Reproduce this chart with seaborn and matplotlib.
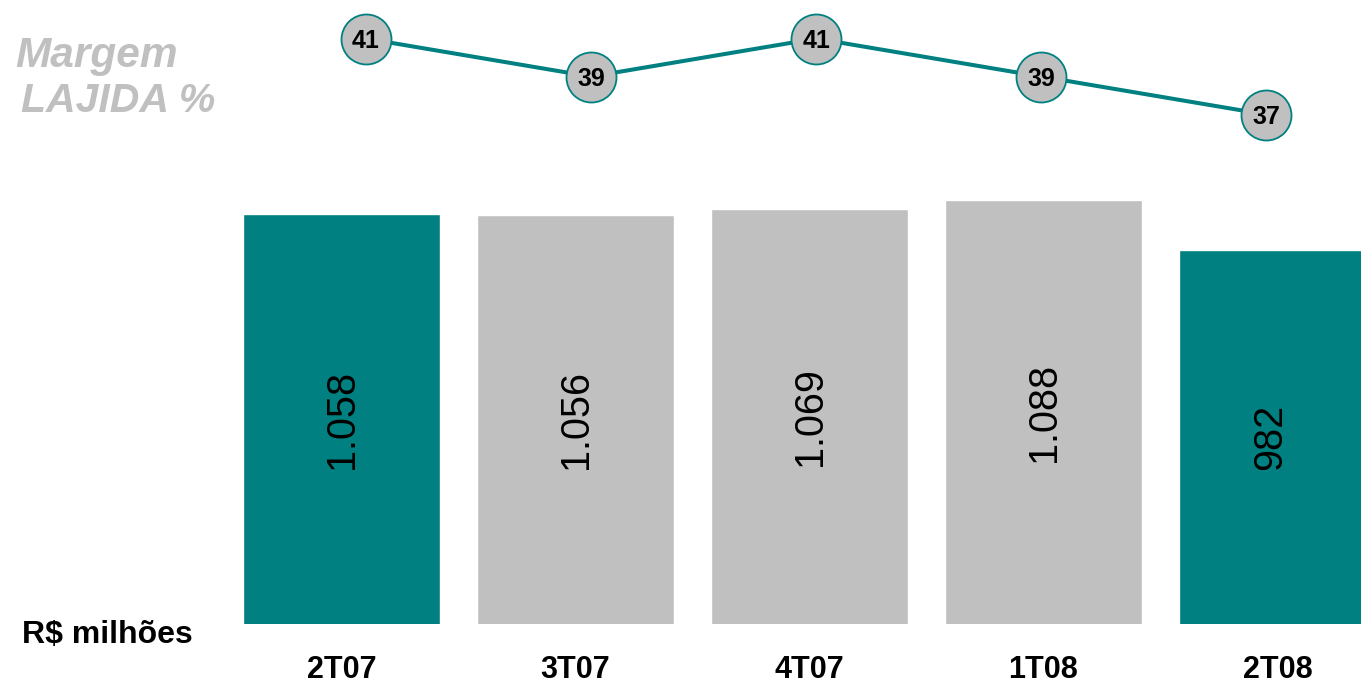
import numpy as np
import pandas as pd
import matplotlib
matplotlib.use("Agg")
import matplotlib.pyplot as plt
import seaborn as sns

# Quarterly EBITDA (R$ millions) and EBITDA margin (%)
quarters = ["2T07", "3T07", "4T07", "1T08", "2T08"]
lajida = [1058, 1056, 1069, 1088, 982]
margem = [41, 39, 41, 39, 37]
bar_colors = ["#008080", "#C0C0C0", "#C0C0C0", "#C0C0C0", "#008080"]

TEAL = "#008080"
GRAY = "#C0C0C0"

sns.set_theme(style="white")
plt.rcParams["font.family"] = ["Liberation Sans", "DejaVu Sans"]

W, H = 1361, 688
fig = plt.figure(figsize=(W / 100, H / 100), dpi=100)

# --- bar panel -------------------------------------------------------------
ax = fig.add_axes([0, 64 / H, 1, 474 / H])
df = pd.DataFrame({"trimestre": quarters, "lajida": lajida})
sns.barplot(data=df, x="trimestre", y="lajida", hue="trimestre",
            palette=bar_colors, legend=False, width=197 / 234,
            saturation=1, ax=ax)
ax.set_xlim(-341.5 / 234, (W - 341.5) / 234)
ax.set_ylim(190, 1194)
for container, v in zip(ax.containers, lajida):
    ax.bar_label(container, labels=[f"{v:,}".replace(",", ".")],
                 label_type="center", rotation=90, fontsize=28.5,
                 color="black")
ax.set_xlabel("")
ax.set_ylabel("")
ax.set_yticks([])
ax.set_xticks(range(len(quarters)))
ax.set_xticklabels(quarters, fontsize=22, fontweight="bold", color="black")
ax.tick_params(axis="x", length=0, pad=22)
for s in ax.spines.values():
    s.set_visible(False)

# --- margin line panel -----------------------------------------------------
ax2 = fig.add_axes([0, 1 - 150 / H, 1, 150 / H])
ax2.patch.set_alpha(0)
xs = np.arange(len(margem))
sns.lineplot(x=xs, y=margem, ax=ax2, color=TEAL, linewidth=2.9,
             marker="o", markersize=36, markerfacecolor=GRAY,
             markeredgecolor=TEAL, markeredgewidth=1.3)
for x, m in zip(xs, margem):
    ax2.text(x, m, str(m), ha="center", va="center_baseline", fontsize=18,
             fontweight="bold", color="black")
ax2.set_xlim(-366 / 225.1, (W - 366) / 225.1)
ax2.set_ylim(43.03 - 150 / 19, 43.03)
ax2.axis("off")

# --- captions --------------------------------------------------------------
fig.text(15 / W, 1 - 67 / H, "Margem", fontsize=30.5, fontweight="bold",
         fontstyle="italic", color=GRAY, ha="left", va="baseline")
fig.text(21 / W, 1 - 112 / H, "LAJIDA %", fontsize=29.5, fontweight="bold",
         fontstyle="italic", color=GRAY, ha="left", va="baseline")
fig.text(22 / W, 1 - 643 / H, "R$ milhões", fontsize=23, fontweight="bold",
         color="black", ha="left", va="baseline")

fig.savefig("out.png", dpi=100)
